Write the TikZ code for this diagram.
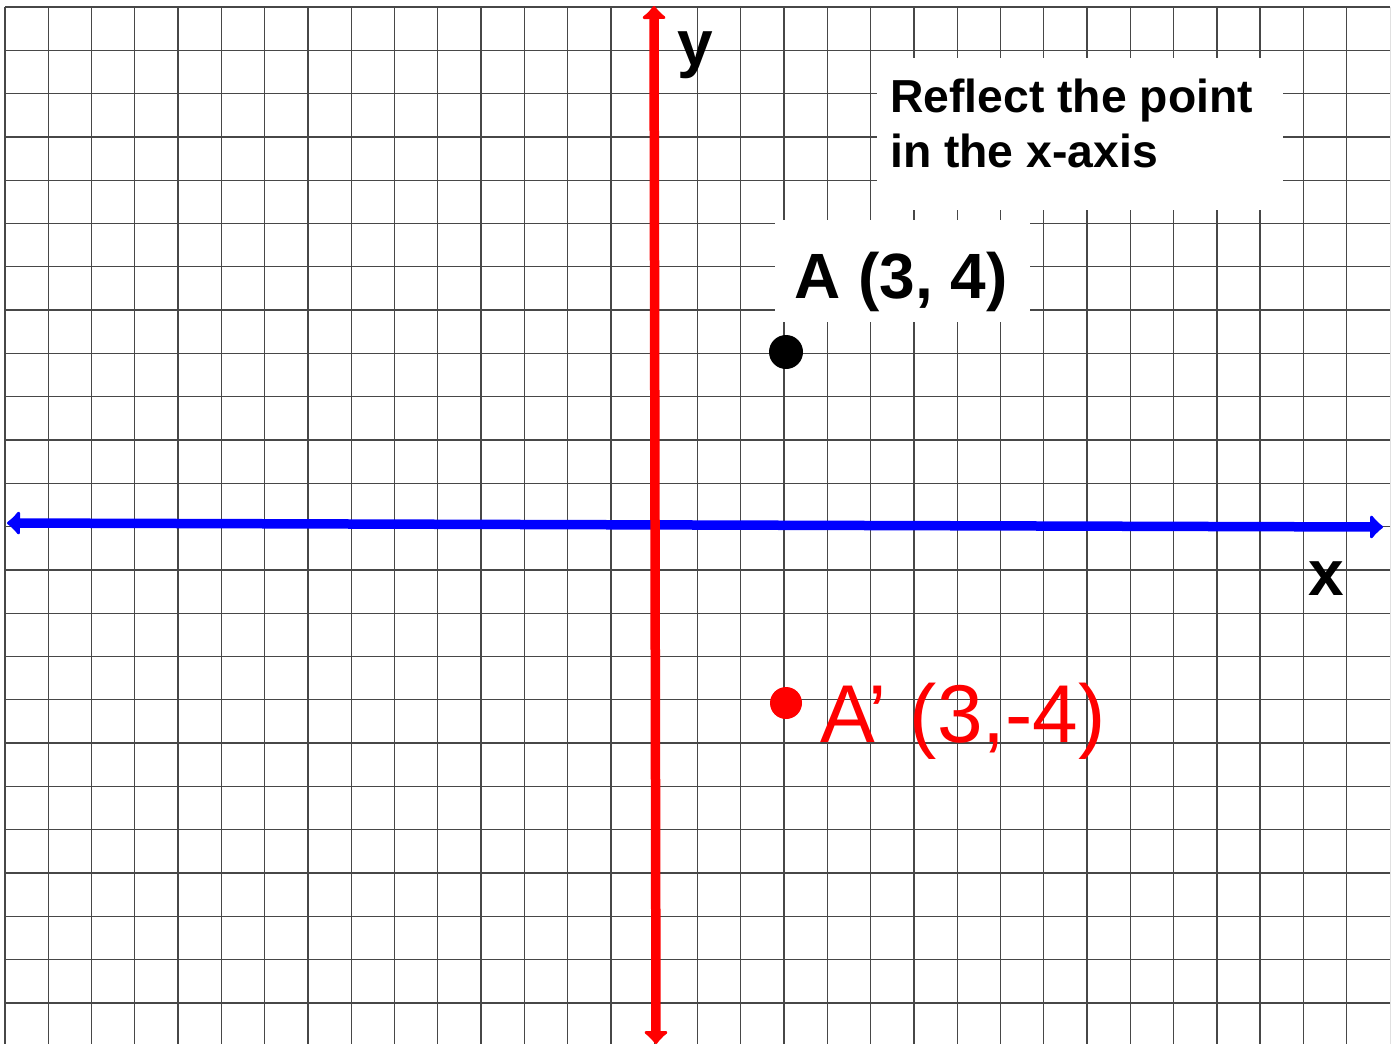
\documentclass[tikz,border=0pt]{standalone}
\usepackage{fontspec}
\setmainfont{Liberation Sans}
\usetikzlibrary{arrows.meta}
\definecolor{axisred}{RGB}{255,0,0}
\definecolor{axisblue}{RGB}{0,0,255}
\begin{document}
\begin{tikzpicture}[x=1pt,y=-1pt,
  gridline/.style={draw=black!72, line width=1.3pt},
  cover/.style={fill=white, draw=none},
  yaxisline/.style={draw=axisred, line width=9.5pt, {Latex[length=14pt,width=30pt,round]}-{Latex[length=14pt,width=30pt,round]}},
  xaxisline/.style={draw=axisblue, line width=9.5pt, {Latex[length=14pt,width=30pt,round]}-{Latex[length=14pt,width=30pt,round]}},
  bigbold/.style={anchor=base west, inner sep=0pt, font=\bfseries\fontsize{64}{70}\selectfont},
  titletext/.style={anchor=base west, inner sep=0pt, font=\bfseries\fontsize{46.3}{55}\selectfont},
  handtext/.style={anchor=base west, inner sep=0pt, text=axisred, font=\fontsize{82}{90}\selectfont},
  dot/.style={circle, inner sep=0pt, minimum size=#1},
]
\useasboundingbox[fill=white] (0,0) rectangle (1399,1044);
% grid
\foreach \k in {0,...,31} \draw[gridline] ({5+43.28*\k},7) -- ({5+43.28*\k},1044);
\foreach \j in {0,...,23} \draw[gridline] (5,{7+43.3*\j}) -- (1390,{7+43.3*\j});
\draw[black!12, line width=1pt] (1390,7) -- (1390,1044);
% white label backgrounds
\fill[cover] (877,58) rectangle (1283,210);
\fill[cover] (775,220) rectangle (1030,322);
% axes
\coordinate (xl) at (7,523);
\coordinate (xr) at (1383,527);
\coordinate (yt) at (654,6);
\coordinate (yb) at (656,1044);
\draw[xaxisline] (xl) -- (xr);
\draw[yaxisline] (yt) -- (yb);
% labels
\node[bigbold] (ylab) at (677,65) {y};
\node[bigbold] (xlab) at (1308,595) {x};
\node[titletext] (title1) at (890,112) {Reflect the point};
\node[titletext] (title2) at (890,167) {in the x-axis};
\node[bigbold] (Alab) at (794,298) {A (3, 4)};
% points
\node[dot=34pt, fill=black] (A) at (786,352) {};
\node[dot=32pt, fill=axisred] (Aprime) at (786,703) {};
\node[handtext] (Aplab) at (820,742) {A’ (3,-4)};
\end{tikzpicture}
\end{document}
